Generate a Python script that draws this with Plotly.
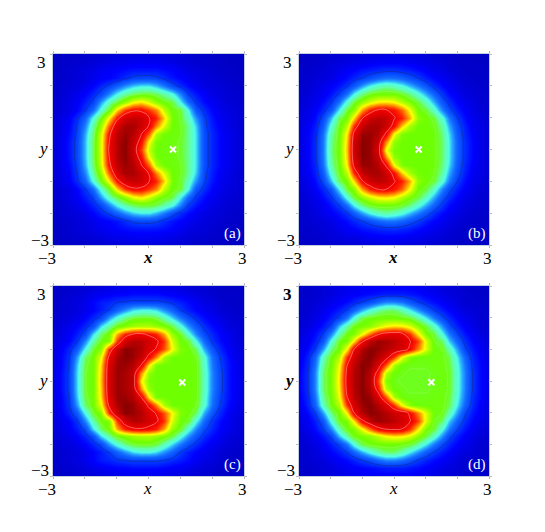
import plotly.graph_objects as go

# grid: x and y run from -3 to 3, rows below hold y = 0 ... 3 (panels are mirror symmetric in y)
x_vals = [-3, -2.75, -2.5, -2.25, -2, -1.75, -1.5, -1.25, -1, -0.75, -0.5, -0.25, 0,
          0.25, 0.5, 0.75, 1, 1.25, 1.5, 1.75, 2, 2.25, 2.5, 2.75, 3]
y_vals = x_vals

density_a = [
    [4,7,12,19,31,45,61,86,96,99,93,78,58,50,49,49,47,42,33,20,14,10,7,5,3],
    [4,7,12,19,31,45,61,85,96,99,94,83,62,51,49,49,47,42,33,20,14,10,7,5,3],
    [4,7,11,18,30,44,60,83,95,98,96,88,74,56,50,49,48,42,33,20,14,10,7,5,3],
    [4,6,10,17,27,41,55,75,92,97,97,93,86,72,60,50,48,42,32,19,13,9,6,4,3],
    [3,6,9,15,23,36,49,64,82,92,94,93,87,80,66,51,47,39,28,18,12,8,6,4,3],
    [3,4,6,10,16,24,37,48,66,78,84,84,78,72,58,49,47,35,21,15,10,7,5,4,3],
    [3,4,6,9,13,18,29,39,47,54,62,65,60,53,49,46,35,24,16,11,8,6,4,3,2],
    [2,3,5,7,10,14,19,27,35,41,45,47,47,45,41,36,27,17,12,9,6,5,3,3,2],
    [2,3,4,5,7,10,14,18,23,28,32,34,34,31,26,20,15,11,8,6,5,4,3,2,2],
    [2,2,3,4,5,7,9,10,12,15,18,19,19,18,15,12,10,8,6,5,4,3,2,2,1],
    [1,2,3,4,5,6,8,9,10,11,12,12,12,12,11,10,8,6,5,4,3,2,2,1,1],
    [1,2,2,3,3,4,5,6,7,7,8,8,8,8,7,6,5,4,3,3,2,2,1,1,1],
    [1,1,2,2,2,3,3,4,4,5,5,5,5,5,5,4,4,3,2,2,2,1,1,1,1],
]
density_b = [
    [5,9,15,26,43,50,68,93,99,98,91,62,51,50,50,50,50,49,44,34,23,15,10,6,4],
    [5,9,15,26,42,50,67,92,99,98,93,71,53,50,50,50,50,49,44,34,23,15,10,6,4],
    [5,9,14,25,41,49,65,89,98,98,96,85,62,51,50,50,50,49,43,33,22,14,9,6,4],
    [5,8,13,22,37,48,58,80,94,97,97,93,83,66,55,50,50,48,41,30,20,13,8,6,4],
    [4,7,11,19,31,45,51,66,85,93,95,94,87,80,68,53,50,46,37,26,17,11,7,5,3],
    [4,6,9,14,21,34,47,53,70,81,86,86,82,74,62,50,46,38,27,19,13,9,6,4,3],
    [3,5,7,11,16,25,37,47,54,60,64,65,63,57,51,46,39,30,21,15,10,7,5,3,3],
    [3,4,6,8,12,17,25,35,43,48,50,50,50,47,43,37,30,23,16,11,8,5,4,3,2],
    [2,3,5,7,9,12,16,22,29,35,39,41,39,36,31,26,21,15,11,8,6,4,3,2,2],
    [2,3,4,5,6,9,11,14,17,20,23,25,25,23,20,17,13,10,8,6,4,3,2,2,2],
    [2,2,3,4,5,7,9,10,12,13,14,15,15,14,13,11,9,7,6,4,3,2,2,2,1],
    [1,2,2,3,4,5,6,6,7,8,9,9,9,9,8,7,6,5,4,3,2,2,2,1,1],
    [1,1,2,2,3,3,4,4,5,5,5,6,6,5,5,5,4,3,3,2,2,1,1,1,1],
]
density_c = [
    [6,11,18,33,47,50,68,92,98,97,94,64,51,50,50,50,50,50,49,39,27,19,12,8,5],
    [6,11,18,33,47,50,67,92,98,97,94,71,53,50,50,50,50,50,49,39,27,19,12,8,5],
    [6,10,17,32,46,50,66,91,98,98,96,87,64,51,50,50,50,50,49,38,26,18,12,8,5],
    [5,10,16,29,44,50,62,87,97,99,98,94,84,72,56,50,50,50,48,37,25,17,11,7,5],
    [5,9,14,22,35,47,53,79,94,99,98,96,90,85,76,63,52,50,44,30,21,14,9,6,4],
    [5,7,10,16,27,40,49,52,78,92,96,95,92,88,78,60,50,47,35,24,16,11,8,5,4],
    [4,6,9,13,19,33,44,51,69,80,85,86,84,80,69,54,48,37,27,19,14,10,7,5,3],
    [3,5,7,10,14,20,33,41,49,52,55,56,56,54,51,46,37,28,21,15,11,8,5,4,3],
    [3,4,5,7,10,14,19,29,37,43,47,48,48,46,40,33,26,20,15,11,8,6,4,3,2],
    [2,3,4,5,7,10,13,17,23,28,33,35,35,33,28,23,17,13,10,8,6,4,3,2,2],
    [2,3,4,5,7,10,13,14,16,17,18,18,18,18,17,15,13,11,8,6,5,3,2,2,2],
    [2,2,3,4,5,7,8,9,10,10,11,11,11,11,10,9,8,7,5,4,3,2,2,2,1],
    [1,2,2,3,3,4,5,6,6,7,7,7,7,7,6,6,5,4,3,3,2,2,1,1,1],
]
density_d = [
    [9,15,27,44,51,65,88,96,99,95,77,52,48,47,47,47,47,48,49,47,37,26,16,10,6],
    [9,15,27,44,51,64,87,96,99,96,82,57,49,48,47,47,47,48,49,47,37,26,16,10,6],
    [8,14,25,42,50,62,85,95,99,98,91,75,56,49,48,48,48,49,49,46,36,25,15,10,6],
    [7,13,23,39,49,57,79,92,98,99,96,90,78,62,52,49,49,49,49,45,34,23,14,9,5],
    [6,10,17,29,43,50,64,87,96,99,98,96,93,91,84,72,60,49,48,40,29,18,12,8,5],
    [5,8,13,21,36,48,51,65,85,95,98,97,95,92,87,77,60,48,44,32,23,15,10,7,4],
    [4,7,11,17,27,40,49,52,62,74,84,88,89,87,78,64,51,46,36,26,18,12,8,5,4],
    [3,5,8,12,18,31,41,49,51,53,58,63,65,64,60,53,46,38,28,19,13,9,6,4,3],
    [3,4,6,9,13,18,26,37,46,49,50,50,50,49,47,41,34,26,19,14,10,7,5,3,3],
    [2,3,5,7,10,13,17,23,30,36,41,44,44,40,34,28,22,17,13,10,7,5,4,3,2],
    [2,3,4,5,7,9,11,14,17,20,24,27,27,25,21,17,14,11,9,7,5,3,3,2,2],
    [2,2,3,4,5,7,8,9,10,11,12,13,13,13,12,11,9,8,6,5,4,3,2,2,2],
    [2,2,3,4,5,6,7,8,9,9,9,9,9,9,9,8,7,6,5,4,3,2,2,2,1],
]
panels = ["a", "b", "c", "d"]
densities = [density_a, density_b, density_c, density_d]
cross_x = [0.77, 0.78, 1.06, 1.18]
cross_y = [0, 0, -0.05, -0.04]

# the browser puts an 8 px body margin round the figure, so the figure is 8 px smaller
# and the pixel boxes below are measured from that corner: left, right, top, bottom
W, H = 537, 524
boxes = [(45, 236, 46, 237), (291, 481, 46, 237), (45, 236, 278, 468), (291, 481, 278, 468)]
FONT = "Liberation Serif"

colorscale = [
    [0.00, "rgb(0,0,190)"], [0.10, "rgb(0,0,255)"], [0.17, "rgb(0,60,255)"],
    [0.25, "rgb(20,110,255)"], [0.30, "rgb(40,170,255)"], [0.35, "rgb(80,255,230)"],
    [0.41, "rgb(100,255,170)"], [0.47, "rgb(110,255,30)"], [0.50, "rgb(110,255,0)"],
    [0.58, "rgb(190,255,0)"], [0.63, "rgb(255,255,0)"], [0.72, "rgb(255,130,0)"],
    [0.80, "rgb(255,30,0)"], [0.86, "rgb(240,0,0)"], [0.93, "rgb(205,0,0)"],
    [0.97, "rgb(170,0,0)"], [1.00, "rgb(120,0,0)"],
]
# level, line colour of the contour lines
contour_lines = [(17, "rgba(30,30,100,0.45)"), (47.5, "rgba(255,255,255,0.15)"), (86, "rgba(255,170,170,0.55)")]

fig = go.Figure()
annotations = []

for i, name in enumerate(panels):
    suffix = "" if i == 0 else str(i + 1)
    xref, yref = "x" + suffix, "y" + suffix
    rows = densities[i]
    z = rows[:0:-1] + rows

    fig.add_trace(go.Heatmap(x=x_vals, y=y_vals, z=z, zmin=0, zmax=100, colorscale=colorscale,
                             zsmooth="best", showscale=False, xaxis=xref, yaxis=yref))
    for level, color in contour_lines:
        fig.add_trace(go.Contour(x=x_vals, y=y_vals, z=z, showscale=False, autocontour=False,
                                 contours=dict(coloring="lines", start=level, end=level, size=1),
                                 line=dict(color=color, width=1, smoothing=1.3),
                                 colorscale=[[0, color], [1, color]],
                                 xaxis=xref, yaxis=yref, hoverinfo="skip"))
    fig.add_trace(go.Scatter(x=[cross_x[i]], y=[cross_y[i]], mode="markers", showlegend=False,
                             marker=dict(symbol="x-thin", size=6, line=dict(color="white", width=2)),
                             xaxis=xref, yaxis=yref))

    left, right, top, bottom = boxes[i]
    axis = dict(range=[-3, 3], tickvals=[-3, -2, -1, 0, 1, 2, 3], showticklabels=False,
                ticks="outside", ticklen=2, tickcolor="#b8b8b8", tickwidth=1, mirror="ticks",
                showline=True, linecolor="#c4cce0", linewidth=1, showgrid=False, zeroline=False)
    fig.update_layout({
        "xaxis" + suffix: dict(axis, domain=[left / W, right / W], anchor=yref),
        "yaxis" + suffix: dict(axis, domain=[1 - bottom / H, 1 - top / H], anchor=xref),
    })

    # tick labels and axis letters sit as in the original, slightly inset on the y side
    bold_x = i < 2
    bold_y = i == 3
    labels = [
        ("\u22123", left - 6, bottom + 13),
        ("3", right - 2, bottom + 13),
        ("<b><i>x</i></b>" if bold_x else "<i>x</i>", (left + right) / 2 - 1, bottom + 12),
        ("<b>3</b>" if bold_y else "3", left - 12, top + 8),
        ("\u22123", left - 13, bottom - 5),
        ("<b><i>y</i></b>" if bold_y else "<i>y</i>", left - 10, (top + bottom) / 2 - 1),
    ]
    for text, px, py in labels:
        annotations.append(dict(x=px / W, y=1 - py / H, xref="paper", yref="paper", text=text,
                                showarrow=False, xanchor="center", yanchor="middle",
                                font=dict(family=FONT, size=17, color="black")))
    annotations.append(dict(x=(right - 12) / W, y=1 - (bottom - 12) / H, xref="paper", yref="paper",
                            text="(%s)" % name, showarrow=False, xanchor="center", yanchor="middle",
                            font=dict(family=FONT, size=15, color="white")))

fig.update_layout(width=W, height=H, margin=dict(l=0, r=0, t=0, b=0), showlegend=False,
                  paper_bgcolor="white", plot_bgcolor="white", annotations=annotations)

fig.write_html("out.html")
